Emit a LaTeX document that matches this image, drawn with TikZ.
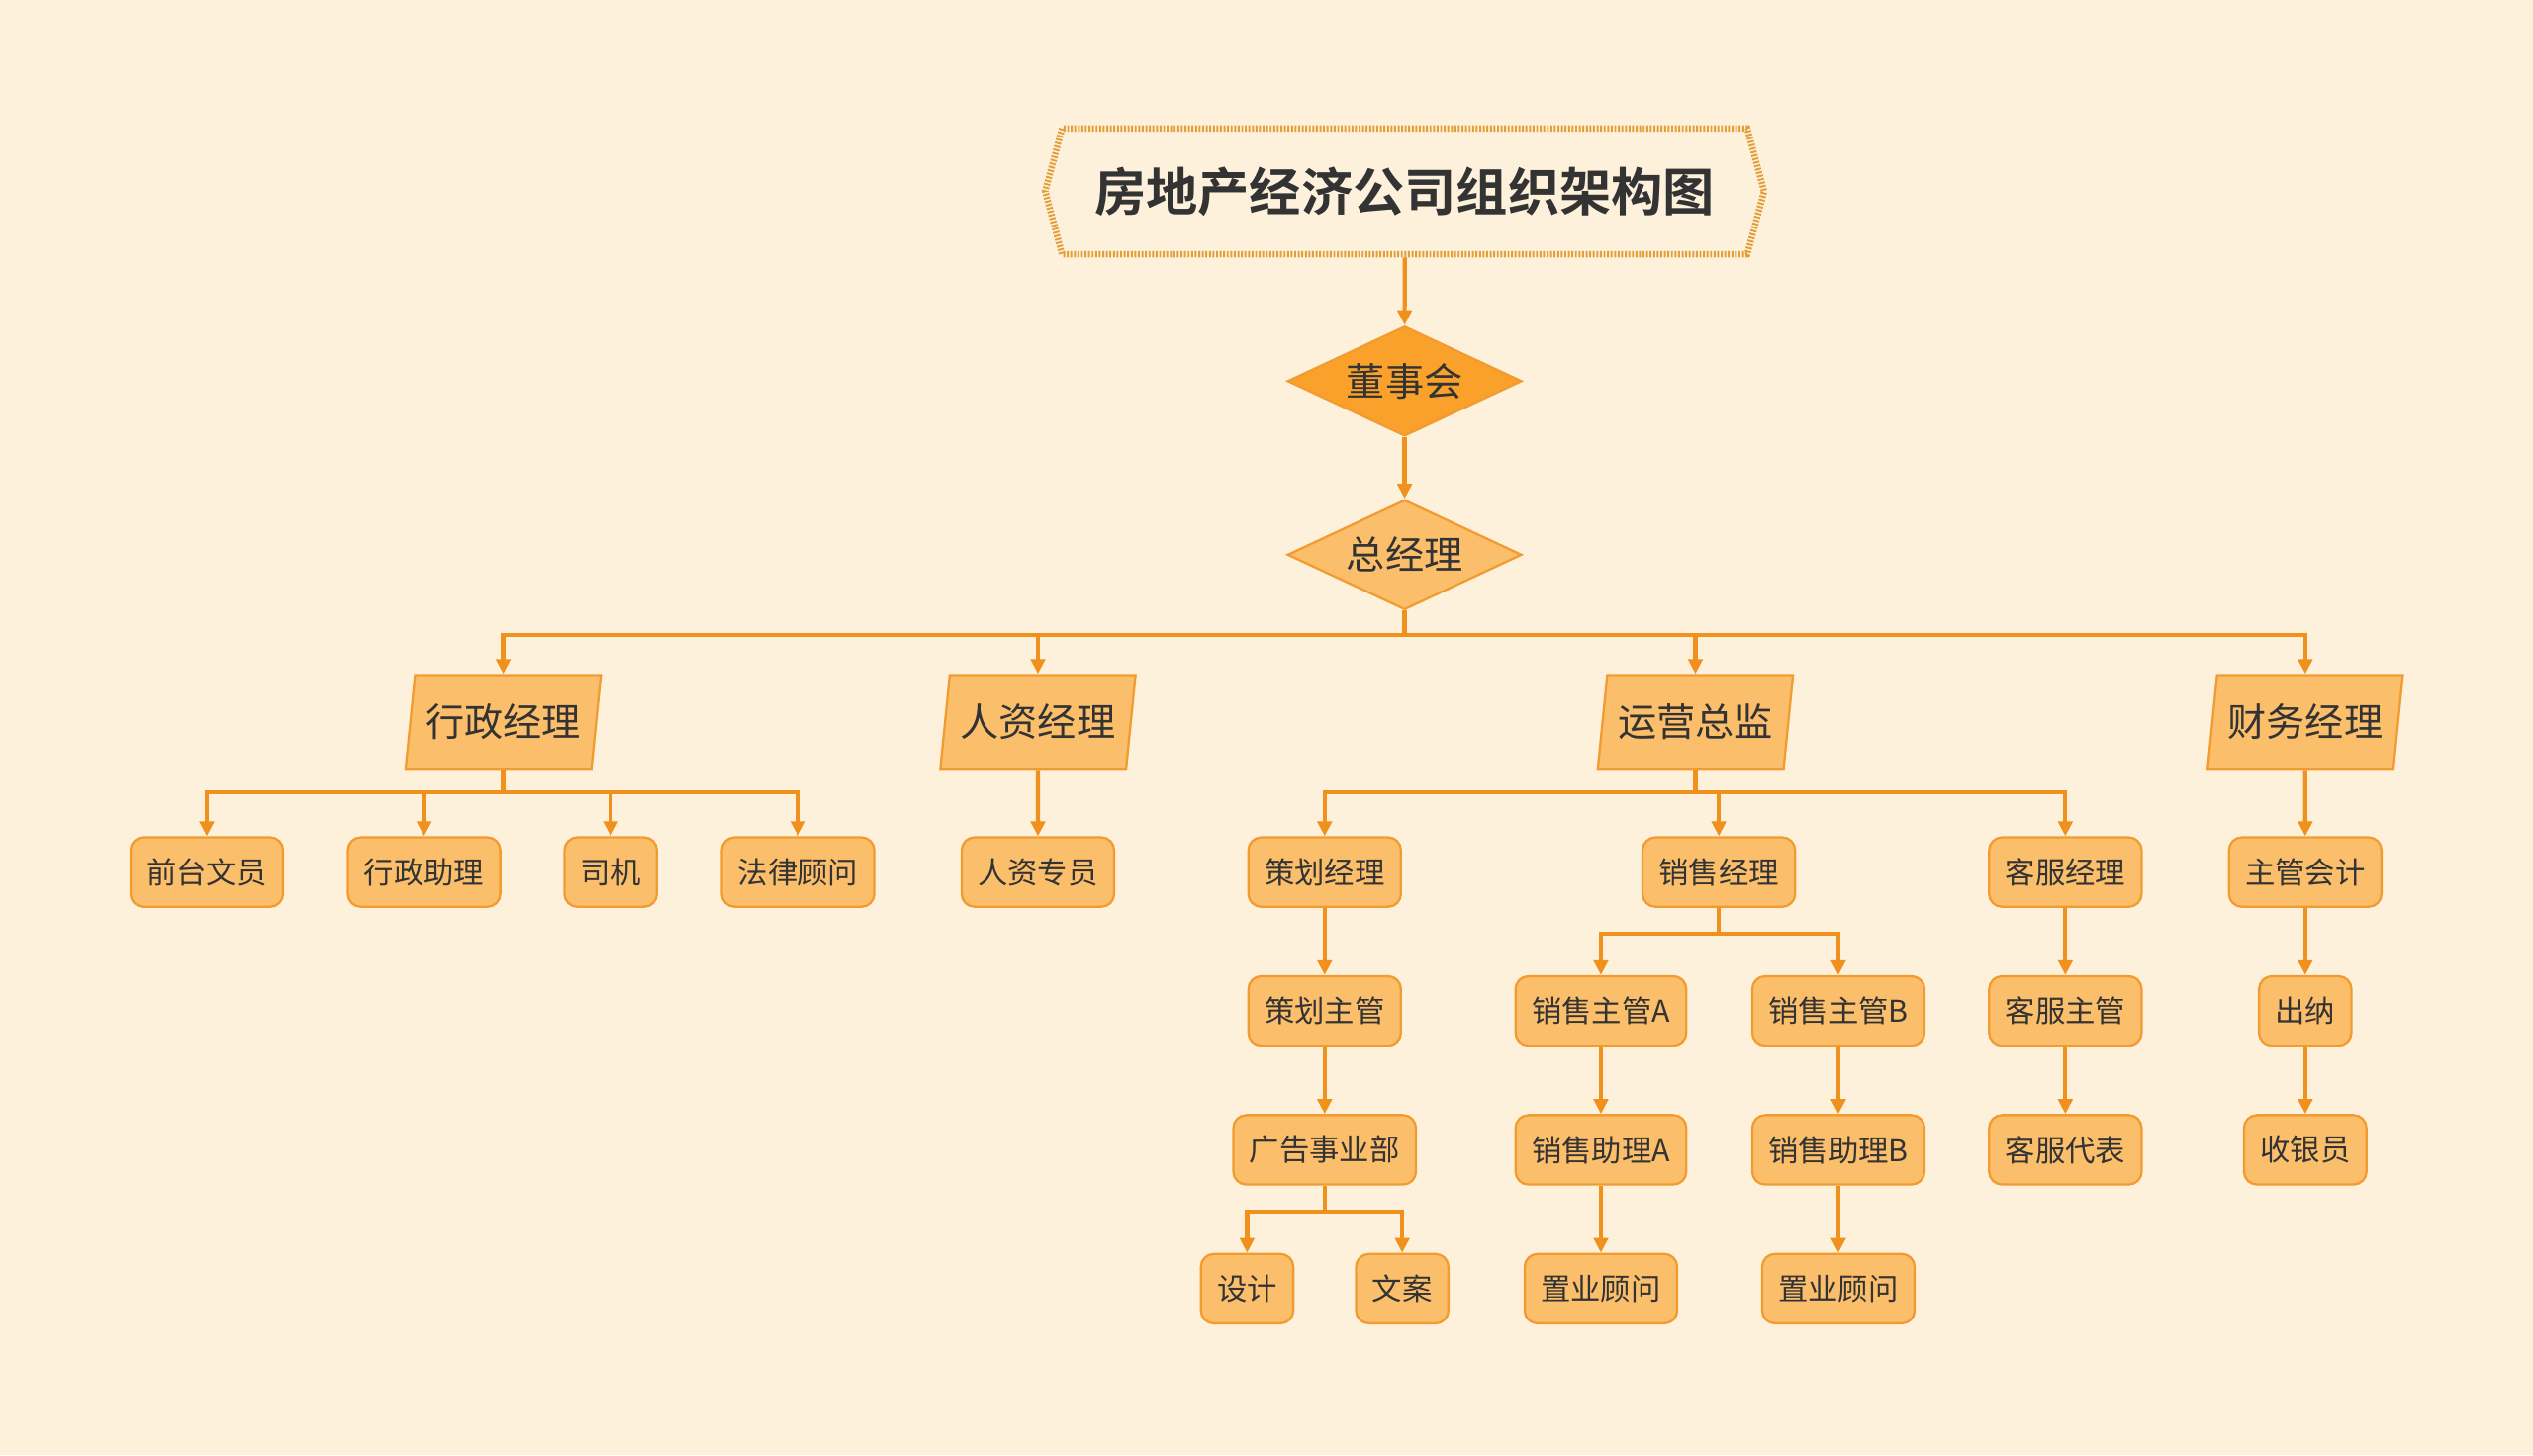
\documentclass[tikz,border=0pt]{standalone}
\usepackage{fontspec}
\setmainfont{Noto Sans CJK SC}[BoldFont={Noto Sans CJK SC Bold}]
\usepackage{xcolor}
\usepackage{tikz}
\usetikzlibrary{arrows.meta, shapes.geometric, shapes.symbols}
\definecolor{creambg}{HTML}{FDF1DB}
\definecolor{boxorange}{HTML}{FBBE6B}
\definecolor{edgeorange}{HTML}{F29B30}
\definecolor{lineorange}{HTML}{F0911E}
\definecolor{darkorange}{HTML}{F9A12B}
\definecolor{dotorange}{HTML}{E3A03A}
\definecolor{textgray}{HTML}{333333}

\begin{document}
\begin{tikzpicture}[x=0.5pt, y=-0.5pt,
    conn/.style={draw=lineorange, line width=1.3pt, -{Triangle[width=4.4pt, length=4.6pt]}},
    postbox/.style={draw=edgeorange, line width=0.7pt, fill=boxorange, rounded corners=4pt,
      inner xsep=5pt, inner ysep=0pt, minimum height=21.5pt, text=textgray,
      font=\fontsize{9.3}{11}\selectfont},
    deptbox/.style={trapezium, trapezium left angle=77, trapezium right angle=103,
      trapezium stretches=true,
      draw=edgeorange, line width=0.7pt, fill=boxorange, inner sep=0pt,
      minimum height=29pt, minimum width=60.5pt, text=textgray,
      font=\fontsize{12}{14}\selectfont},
    topdiamond/.style={diamond, aspect=2.13, draw=edgeorange, line width=0.7pt,
      fill=boxorange, inner sep=0pt, minimum width=72.5pt, minimum height=34pt,
      text=textgray, font=\fontsize{12}{14}\selectfont},
    titlebox/.style={signal, signal to=west and east, signal pointer angle=150,
      draw=dotorange, line width=2pt, dash pattern=on 0.6pt off 0.5pt,
      minimum width=222.5pt, minimum height=39pt, inner sep=0pt, text=textgray,
      font=\fontsize{16}{18}\selectfont\bfseries}]
  \fill[creambg] (0,0) rectangle (1568,901);
  \useasboundingbox (0,0) rectangle (1568,901);

  % top of the chart
  \node[titlebox] (title) at (869.5,118.5) {房地产经济公司组织架构图};
  \node[topdiamond, fill=darkorange] (board) at (869.5,236) {董事会};
  \node[topdiamond] (gm) at (869.5,343.5) {总经理};

  % departments
  \node[deptbox] (admin) at (311.5,447) {行政经理};
  \node[deptbox] (hr) at (642.5,447) {人资经理};
  \node[deptbox] (ops) at (1049.5,447) {运营总监};
  \node[deptbox] (fin) at (1427,447) {财务经理};

  % first row of posts
  \node[postbox] (front) at (128,540) {前台文员};
  \node[postbox] (adminasst) at (262.5,540) {行政助理};
  \node[postbox] (driver) at (378,540) {司机};
  \node[postbox] (legal) at (494,540) {法律顾问};
  \node[postbox] (hrstaff) at (642.5,540) {人资专员};
  \node[postbox] (plan) at (820,540) {策划经理};
  \node[postbox] (sales) at (1064,540) {销售经理};
  \node[postbox] (service) at (1278.5,540) {客服经理};
  \node[postbox] (chiefacct) at (1427,540) {主管会计};

  % second row
  \node[postbox] (plansup) at (820,626) {策划主管};
  \node[postbox] (supA) at (991,626) {销售主管A};
  \node[postbox] (supB) at (1138,626) {销售主管B};
  \node[postbox] (servsup) at (1278.5,626) {客服主管};
  \node[postbox] (cashier) at (1427,626) {出纳};

  % third row
  \node[postbox] (adv) at (820,712) {广告事业部};
  \node[postbox] (asstA) at (991,712) {销售助理A};
  \node[postbox] (asstB) at (1138,712) {销售助理B};
  \node[postbox] (servrep) at (1278.5,712) {客服代表};
  \node[postbox] (teller) at (1427,712) {收银员};

  % fourth row
  \node[postbox] (design) at (772,798) {设计};
  \node[postbox] (copy) at (868,798) {文案};
  \node[postbox] (consA) at (991,798) {置业顾问};
  \node[postbox] (consB) at (1138,798) {置业顾问};

  % connectors
  \draw[conn] (title) -- (board);
  \draw[conn] (board) -- (gm);
  \foreach \d in {admin,hr,ops,fin}
    \draw[conn] (gm.south) -- ++(0,15) -| (\d.north);
  \foreach \p in {front,adminasst,driver,legal}
    \draw[conn] (admin.south) -- ++(0,14) -| (\p.north);
  \draw[conn] (hr) -- (hrstaff);
  \foreach \p in {plan,sales,service}
    \draw[conn] (ops.south) -- ++(0,14) -| (\p.north);
  \draw[conn] (fin) -- (chiefacct);
  \draw[conn] (plan) -- (plansup);
  \draw[conn] (plansup) -- (adv);
  \foreach \p in {design,copy}
    \draw[conn] (adv.south) -- ++(0,16) -| (\p.north);
  \foreach \p in {supA,supB}
    \draw[conn] (sales.south) -- ++(0,16) -| (\p.north);
  \draw[conn] (supA) -- (asstA);
  \draw[conn] (asstA) -- (consA);
  \draw[conn] (supB) -- (asstB);
  \draw[conn] (asstB) -- (consB);
  \draw[conn] (service) -- (servsup);
  \draw[conn] (servsup) -- (servrep);
  \draw[conn] (chiefacct) -- (cashier);
  \draw[conn] (cashier) -- (teller);
\end{tikzpicture}
\end{document}
